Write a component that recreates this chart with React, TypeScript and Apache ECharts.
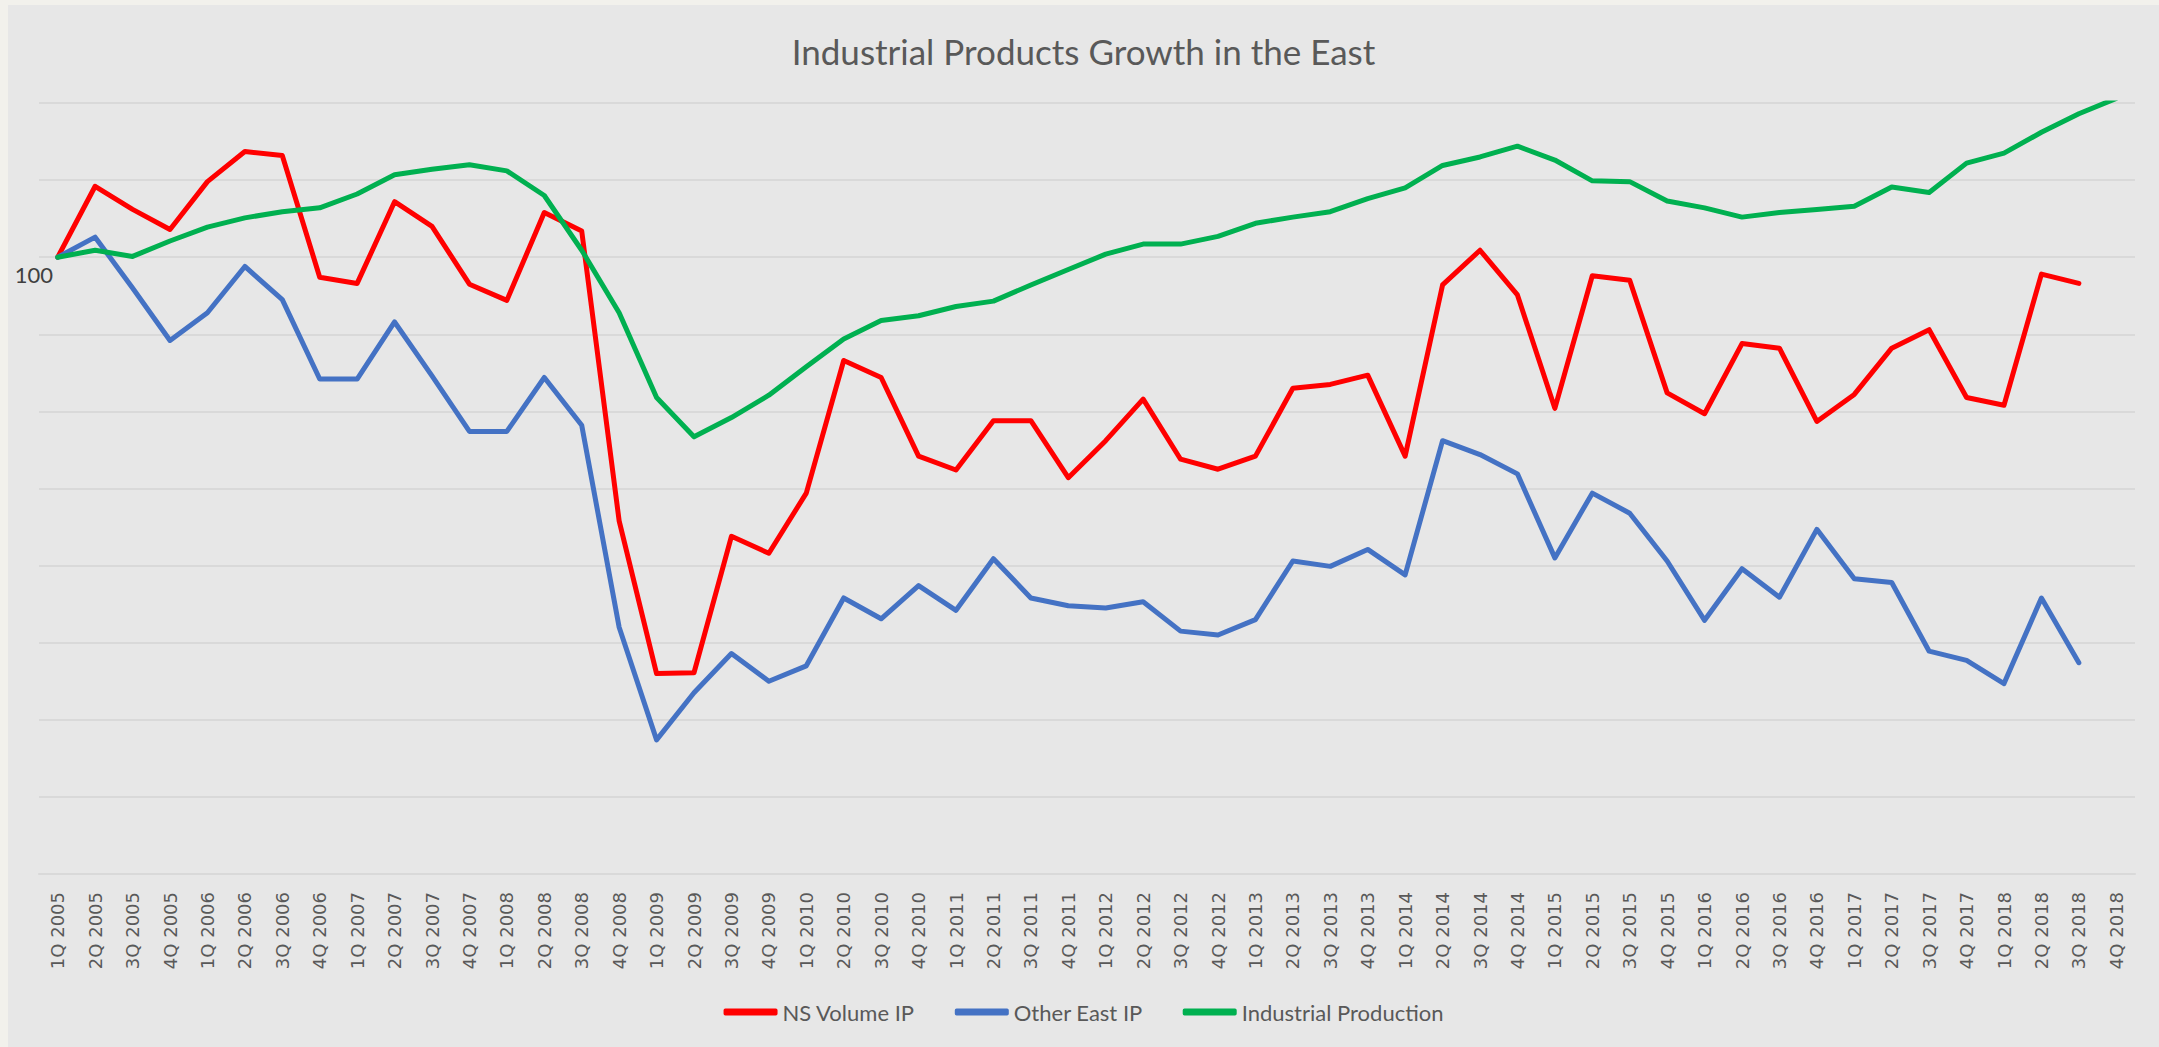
import React, { useEffect, useRef } from 'react';
import * as echarts from 'echarts';

const years = [2005, 2006, 2007, 2008, 2009, 2010, 2011, 2012, 2013, 2014, 2015, 2016, 2017, 2018];
const quarters = ['1Q', '2Q', '3Q', '4Q'];
const categories = years.flatMap((y) => quarters.map((q) => `${q} ${y}`));

const nsVolumeIP = [
  100, 104.6, 103.1, 101.8, 104.9, 106.85, 106.6, 98.7, 98.3, 103.6, 102.0, 98.25, 97.2, 102.9,
  101.7, 82.9, 73.0, 73.05, 81.9, 80.8, 84.7, 93.3, 92.2, 87.1, 86.2, 89.4, 89.4, 85.7,
  88.1, 90.8, 86.9, 86.25, 87.1, 91.5, 91.75, 92.35, 87.1, 98.2, 100.45, 97.55, 90.2, 98.8,
  98.5, 91.2, 89.85, 94.4, 94.1, 89.35, 91.1, 94.1, 95.3, 90.9, 90.4, 98.9, 98.3, null,
];

const otherEastIP = [
  100, 101.3, 98.0, 94.6, 96.4, 99.4, 97.25, 92.1, 92.1, 95.8, 92.3, 88.7, 88.7, 92.2,
  89.1, 76.0, 68.7, 71.75, 74.3, 72.5, 73.5, 77.9, 76.55, 78.7, 77.1, 80.45, 77.9, 77.4,
  77.25, 77.65, 75.75, 75.5, 76.5, 80.3, 79.95, 81.05, 79.4, 88.1, 87.2, 85.95, 80.5, 84.7,
  83.4, 80.3, 76.45, 79.8, 77.95, 82.35, 79.15, 78.9, 74.45, 73.85, 72.35, 77.9, 73.7, null,
];

const industrialProduction = [
  100, 100.45, 100.05, 101.05, 101.95, 102.55, 102.95, 103.2, 104.1, 105.35, 105.7, 106.0, 105.6, 104.0,
  100.45, 96.4, 90.9, 88.35, 89.6, 91.05, 92.9, 94.7, 95.9, 96.2, 96.8, 97.15, 98.2, 99.2,
  100.2, 100.85, 100.85, 101.35, 102.2, 102.6, 102.95, 103.8, 104.5, 105.95, 106.5, 107.2, 106.3, 104.95,
  104.9, 103.65, 103.2, 102.6, 102.9, 103.1, 103.3, 104.55, 104.2, 106.1, 106.75, 108.1, 109.3, 110.3,
];

const seriesNames = ['NS Volume IP', 'Other East IP', 'Industrial Production'];
const seriesColors = ['#FF0000', '#4472C4', '#00B050'];
const seriesData = [nsVolumeIP, otherEastIP, industrialProduction];

const textFont = 'Lato, "Open Sans", sans-serif';

export default function App() {
  const ref = useRef<HTMLDivElement>(null);

  useEffect(() => {
    document.body.style.margin = '0';
    document.body.style.background = '#f2f1ec';
    const chart = echarts.init(ref.current!, null, { renderer: 'svg' });
    chart.setOption({
      animation: false,
      backgroundColor: '#e7e7e7',
      title: {
        text: 'Industrial Products Growth in the East',
        left: 'center',
        top: 23,
        textStyle: {
          fontFamily: textFont,
          fontSize: 35,
          fontWeight: 'normal',
          color: '#595959',
        },
      },
      legend: {
        data: seriesNames,
        left: 'center',
        top: 991,
        icon: 'roundRect',
        itemWidth: 54,
        itemHeight: 7,
        itemGap: 40,
        textStyle: { fontFamily: textFont, fontSize: 22, color: '#595959' },
      },
      grid: { left: 31, right: 24, top: 98, bottom: 173, containLabel: false },
      xAxis: {
        type: 'category',
        data: categories,
        boundaryGap: true,
        axisLine: { show: true, lineStyle: { color: '#d9d9d9', width: 2 } },
        axisTick: { show: false },
        axisLabel: {
          rotate: 90,
          interval: 0,
          margin: 18,
          fontFamily: '"DejaVu Sans", sans-serif',
          fontSize: 18,
          color: '#595959',
        },
      },
      yAxis: {
        type: 'value',
        min: 60,
        max: 110,
        interval: 5,
        axisLine: { show: false },
        axisTick: { show: false },
        splitLine: { show: true, lineStyle: { color: '#d9d9d9', width: 2 } },
        axisLabel: {
          formatter: (v: number) => (v === 100 ? '100' : ''),
          margin: -14,
          verticalAlign: 'top',
          padding: [6, 0, 0, 0],
          fontFamily: textFont,
          fontSize: 22,
          color: '#404040',
        },
      },
      series: seriesNames.map((name, i) => ({
        name,
        type: 'line',
        data: seriesData[i],
        showSymbol: false,
        symbol: 'none',
        connectNulls: false,
        color: seriesColors[i],
        lineStyle: { width: 5, color: seriesColors[i], cap: 'round', join: 'round' },
        emphasis: { disabled: true },
      })),
    });
    return () => chart.dispose();
  }, []);

  return (
    <div style={{ width: 2159, height: 1047, background: '#f2f1ec', position: 'relative', overflow: 'hidden' }}>
      <div ref={ref} style={{ position: 'absolute', left: 8, top: 5, width: 2151, height: 1042 }} />
    </div>
  );
}
